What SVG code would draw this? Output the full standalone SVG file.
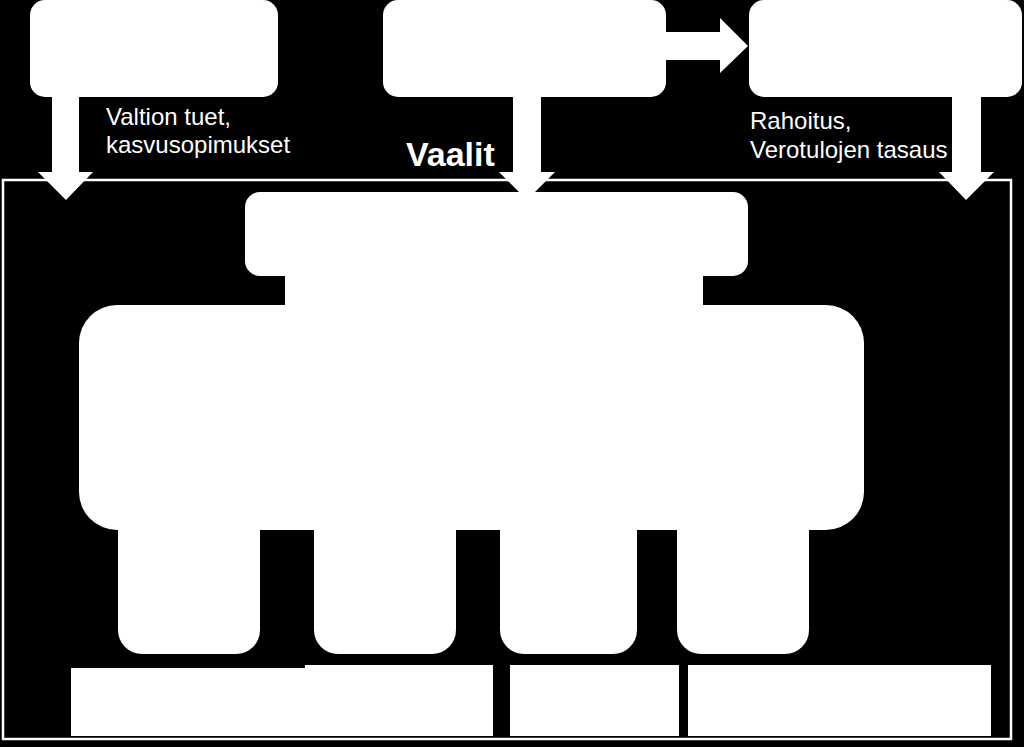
<svg xmlns="http://www.w3.org/2000/svg" width="1024" height="747" viewBox="0 0 1024 747">
<style>
.w{fill:#fff}
.lbl{fill:#fff;font-family:"Liberation Sans",Arial,sans-serif;font-size:24px}
.big{fill:#fff;font-family:"Liberation Sans",Arial,sans-serif;font-size:34px;font-weight:bold}
</style>
<rect x="0" y="0" width="1024" height="747" fill="#000"/>
<g id="frame">
<rect x="3" y="180" width="1008" height="559" fill="none" stroke="#fff" stroke-width="2.5"/>
</g>
<g id="connectors" class="w">
<polygon points="52,97 79,97 79,172 93,172 66,200 38,172 52,172"/>
<polygon points="513,97 541,97 541,172 555,172 527,200 499,172 513,172"/>
<polygon points="952,97 981,97 981,172 994,172 966,200 939,172 952,172"/>
<polygon points="666,32 720,32 720,18 748,46 720,73 720,60 666,60"/>
</g>
<g id="box-top-left"><rect class="w" x="30" y="0" width="248" height="97" rx="15"/></g>
<g id="box-top-middle"><rect class="w" x="383" y="0" width="283" height="97" rx="15"/></g>
<g id="box-top-right"><rect class="w" x="749" y="0" width="273" height="97" rx="15"/></g>
<g id="label-left">
<text class="lbl" x="106" y="125">Valtion tuet,</text>
<text class="lbl" x="106" y="153">kasvusopimukset</text>
</g>
<g id="label-right">
<text class="lbl" x="750" y="129">Rahoitus,</text>
<text class="lbl" x="750" y="158">Verotulojen tasaus</text>
</g>
<g id="label-vaalit"><text class="big" x="406" y="166">Vaalit</text></g>
<g id="box-inner-top">
<rect class="w" x="245" y="192" width="503" height="84" rx="15"/>
<rect class="w" x="285" y="270" width="418" height="40"/>
</g>
<g id="box-main"><rect class="w" x="79" y="305" width="785" height="225" rx="38"/></g>
<g id="leg-1"><path class="w" d="M118,520 H260 V630 A24,24 0 0 1 236,654 H142 A24,24 0 0 1 118,630 Z"/></g>
<g id="leg-2"><path class="w" d="M314,520 H456 V630 A24,24 0 0 1 432,654 H338 A24,24 0 0 1 314,630 Z"/></g>
<g id="leg-3"><path class="w" d="M500,520 H637 V630 A24,24 0 0 1 613,654 H524 A24,24 0 0 1 500,630 Z"/></g>
<g id="leg-4"><path class="w" d="M677,520 H809 V630 A24,24 0 0 1 785,654 H701 A24,24 0 0 1 677,630 Z"/></g>
<g id="bar-1"><rect class="w" x="71" y="668" width="235" height="68"/></g>
<g id="bar-2"><rect class="w" x="305" y="665" width="188" height="71"/></g>
<g id="bar-3"><rect class="w" x="510" y="665" width="169" height="71"/></g>
<g id="bar-4"><rect class="w" x="688" y="665" width="303" height="71"/></g>
</svg>
